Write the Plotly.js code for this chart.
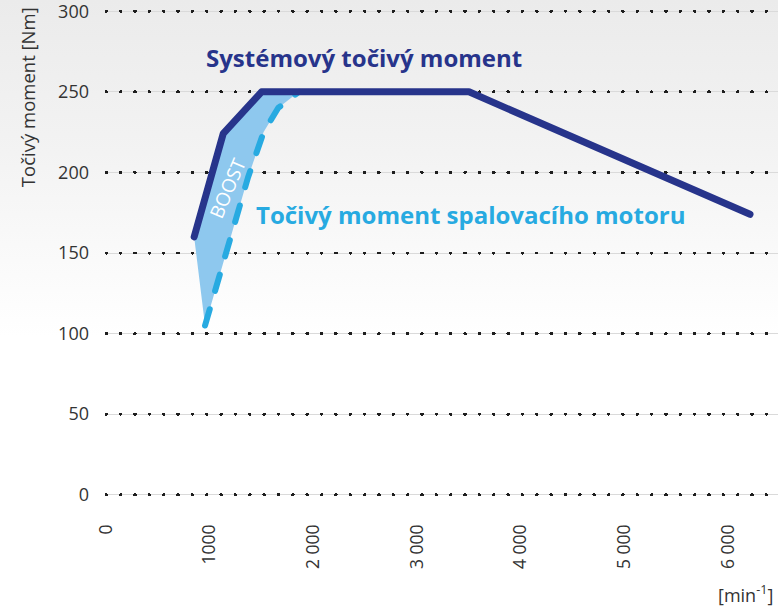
<!DOCTYPE html>
<html>
<head>
<meta charset="utf-8">
<script src="https://cdn.plot.ly/plotly-3.0.1.min.js"></script>
<style>
html, body { margin:0; padding:0; }
body { width:778px; height:611px; background: linear-gradient(180deg, #ebebeb 0%, #f3f3f3 25%, #ffffff 55%, #ffffff 100%); }
#chart { width:778px; height:611px; }
.scatterlayer .js-line { stroke-linecap: round !important; stroke-linejoin: round !important; }
.gridlayer .y2 path { stroke-linecap: round !important; }
</style>
</head>
<body>
<div id="chart"></div>
<script>
// Data
const systemRpm    = [850, 1130, 1500, 3500, 6210];
const systemTorque = [160, 224, 250, 250, 174];
const engineRpm    = [955, 1180, 1370, 1520, 1660, 1860];
const engineTorque = [105, 155, 197, 225, 240, 250];
const xTickVals  = [0, 1000, 2000, 3000, 4000, 5000, 6000];
const xTickText  = ["0", "1000", "2 000", "3 000", "4 000", "5 000", "6 000"];
const yTickVals  = [0, 50, 100, 150, 200, 250, 300];

const navy = "#27348b";
const sky  = "#27aae1";
const boostFill = "#8ec8ee";

const boostX = systemRpm.slice(0, 3).concat(engineRpm.slice().reverse());
const boostY = systemTorque.slice(0, 3).concat(engineTorque.slice().reverse());

const traces = [
  { x: [0], y: [0], yaxis: "y2", type: "scatter", mode: "markers",
    marker: { opacity: 0 }, hoverinfo: "skip", showlegend: false },
  { x: boostX, y: boostY, type: "scatter", mode: "lines", fill: "toself",
    fillcolor: boostFill, line: { width: 0, color: boostFill }, hoverinfo: "skip", showlegend: false },
  { x: engineRpm, y: engineTorque, type: "scatter", mode: "lines",
    line: { color: sky, width: 6, dash: "17px,19px" }, showlegend: false },
  { x: systemRpm, y: systemTorque, type: "scatter", mode: "lines",
    line: { color: navy, width: 7 }, showlegend: false }
];

const fam = "Open Sans, sans-serif";

const layout = {
  width: 778, height: 611,
  margin: { l: 106, r: 0, t: 8, b: 113 },
  paper_bgcolor: "rgba(0,0,0,0)",
  plot_bgcolor: "rgba(0,0,0,0)",
  showlegend: false,
  xaxis: {
    range: [0, 6480], tickvals: xTickVals, ticktext: xTickText, tickangle: -90,
    showgrid: false, zeroline: false, showline: false, ticks: "",
    ticklabelstandoff: 22, ticklabeloverflow: "allow",
    tickfont: { family: fam, size: 17.5, color: "#333333" },
    fixedrange: true
  },
  yaxis: {
    range: [-2, 302], tickvals: yTickVals, showgrid: true, gridcolor: "#dadada",
    gridwidth: 1, zeroline: false, showline: false, ticks: "",
    ticklabelstandoff: 16, ticklabeloverflow: "allow",
    tickfont: { family: fam, size: 18, color: "#333333" }, fixedrange: true
  },
  yaxis2: {
    range: [-2, 302], overlaying: "y", tickvals: yTickVals, showgrid: true,
    gridcolor: "#1e1e1e", gridwidth: 3, griddash: "0.6px,13.75px",
    zeroline: false, showticklabels: false, fixedrange: true
  },
  annotations: [
    { x: 2488, y: 271.5, xref: "x", yref: "y", text: "<b>Systémový točivý moment</b>", showarrow: false,
      font: { family: fam, size: 24, color: navy } },
    { x: 3510, y: 173.6, xref: "x", yref: "y", text: "<b>Točivý moment spalovacího motoru</b>", showarrow: false,
      font: { family: fam, size: 24, color: sky } },
    { x: 1167, y: 190, xref: "x", yref: "y", text: "BOOST", showarrow: false, textangle: -67,
      font: { family: fam, size: 19, color: "#ffffff" } },
    { x: -0.1176, y: 0.818, xref: "paper", yref: "paper", xanchor: "center", yanchor: "middle",
      text: "Točivý moment [Nm]", showarrow: false,
      textangle: -90, font: { family: fam, size: 18.5, color: "#333333" } },
    { x: 0.9955, y: -0.196, xref: "paper", yref: "paper", xanchor: "right", yanchor: "middle",
      text: "[min<sup>-1</sup>]", showarrow: false,
      font: { family: fam, size: 18, color: "#333333" } }
  ]
};

Plotly.newPlot("chart", traces, layout, { displayModeBar: false, staticPlot: true });
</script>
</body>
</html>
